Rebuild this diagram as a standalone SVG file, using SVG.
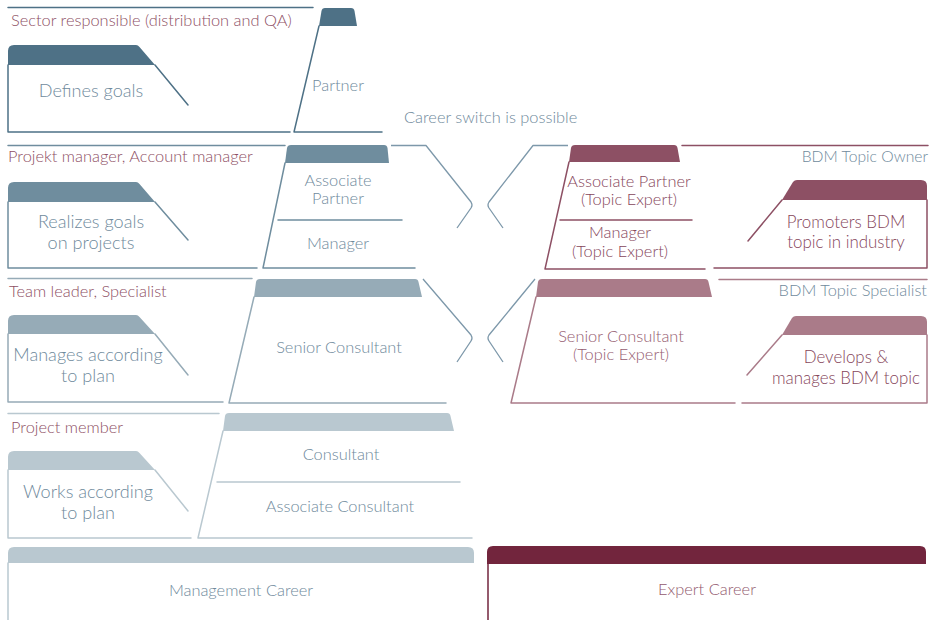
<svg xmlns="http://www.w3.org/2000/svg" width="935" height="620" viewBox="0 0 935 620">
<style>
text{font-family:Lato,"Liberation Sans",sans-serif;font-size:16.4px;font-weight:300}
.big{font-size:18.1px}
.bigr{font-size:16.9px}
.red{fill:#8e4f64}
.blu{fill:#6f8a9c}
.m{text-anchor:middle}
.e{text-anchor:end}
.ln{fill:none;stroke-width:1.5;stroke-linejoin:round;stroke-linecap:round}
.s1{stroke:#4e7186}.f1{fill:#4e7186}
.s2{stroke:#6f8d9e}.f2{fill:#6f8d9e}
.s3{stroke:#96abb7}.f3{fill:#96abb7}
.s4{stroke:#b9c8d0}.f4{fill:#b9c8d0}
.r1{stroke:#8d5064}.g1{fill:#8d5064}
.r2{stroke:#aa7b89}.g2{fill:#aa7b89}
.ch{fill:none;stroke:#7d98aa;stroke-width:1.3;stroke-linejoin:round}
</style>
<rect width="935" height="620" fill="#ffffff"/>

<g id="level-sector">
<path class="ln s1" d="M8,7.5 H313"/>
<text class="red" x="11" y="26">Sector responsible (distribution and QA)</text>
</g>
<g id="defines-goals">
<path class="f1" d="M8,51 Q8,45 14,45 L136,45 Q138,45 139.5,47 L155,65 L8,65 Z"/>
<path class="ln s1" d="M155,65 L188,105 M8,65 V132 H290"/>
<text class="blu big m" x="91" y="97">Defines goals</text>
</g>
<g id="partner">
<path class="f1" d="M319,26 L321.5,11 Q322,8 325,8 L351,8 Q354,8 354.5,11 L357,26 Z"/>
<path class="ln s1" d="M319,26 L294,132 H382"/>
<text class="blu m" x="338" y="91">Partner</text>
</g>

<g id="level-project-manager">
<path class="ln s2" d="M8,145.5 H285"/>
<text class="red" x="8" y="162">Projekt manager, Account manager</text>
</g>
<g id="realizes-goals">
<path class="f2" d="M8,188 Q8,182 14,182 L136,182 Q138,182 139.5,184 L155,202 L8,202 Z"/>
<path class="ln s2" d="M155,202 L188,240 M8,202 V268 H257"/>
<text class="blu big m" x="91" y="228">Realizes goals</text>
<text class="blu big m" x="91" y="249">on projects</text>
</g>
<g id="associate-partner">
<path class="f2" d="M285,163 L287,148 Q287.5,145 291,145 L384,145 Q387,145 387.5,148 L389,163 Z"/>
<path class="ln s2" d="M285,163 L263,268 H415 M278,220 H402"/>
<text class="blu m" x="338" y="186">Associate</text>
<text class="blu m" x="338" y="204">Partner</text>
<text class="blu m" x="338" y="249">Manager</text>
</g>

<g id="level-team-leader">
<path class="ln s3" d="M8,278.5 H252"/>
<text class="red" x="9" y="297">Team leader, Specialist</text>
</g>
<g id="manages-plan">
<path class="f3" d="M8,321 Q8,315 14,315 L136,315 Q138,315 139.5,317 L155,334 L8,334 Z"/>
<path class="ln s3" d="M155,334 L188,375 M8,334 V402 H223"/>
<text class="blu big m" x="88" y="361">Manages according</text>
<text class="blu big m" x="88" y="382">to plan</text>
</g>
<g id="senior-consultant">
<path class="f3" d="M254,297 L256,282 Q256.5,279 260,279 L415,279 Q418,279 418.5,282 L422,297 Z"/>
<path class="ln s3" d="M254,297 L229,403 H446"/>
<text class="blu m" x="339" y="353">Senior Consultant</text>
</g>

<g id="level-project-member">
<path class="ln s4" d="M8,413.5 H219"/>
<text class="red" x="11" y="433">Project member</text>
</g>
<g id="works-plan">
<path class="f4" d="M8,457 Q8,451 14,451 L136,451 Q138,451 139.5,453 L155,470 L8,470 Z"/>
<path class="ln s4" d="M155,470 L188,511 M8,470 V538 H191"/>
<text class="blu big m" x="88" y="498">Works according</text>
<text class="blu big m" x="88" y="519">to plan</text>
</g>
<g id="consultant">
<path class="f4" d="M223,431 L225,416 Q225.5,413 229,413 L447,413 Q450,413 450.5,416 L454,431 Z"/>
<path class="ln s4" d="M223,431 L198,538 H472 M217,482 H460"/>
<text class="blu m" x="341" y="460">Consultant</text>
<text class="blu m" x="340" y="512">Associate Consultant</text>
</g>

<g id="management-career">
<path class="f4" d="M8,563 V553 Q8,547 14,547 H468 Q474,547 474,553 V563 Z"/>
<path class="ln s4" d="M8,563 V621"/>
<text class="blu m" x="241" y="596">Management Career</text>
</g>
<g id="expert-career">
<path fill="#72253d" d="M487,564 V552 Q487,546 493,546 H920 Q926,546 926,552 V564 Z"/>
<path class="ln" stroke="#72253d" d="M488,564 V621"/>
<text class="m" fill="#925a6e" x="707" y="595">Expert Career</text>
</g>

<g id="associate-partner-topic">
<path class="g1" d="M569,162 L571,148 Q571.5,145 575,145 L674,145 Q677,145 677.5,148 L680,162 Z"/>
<path class="ln r1" d="M569,162 L545,269 H705 M560,220 H692"/>
<text class="m" fill="#86465b" x="629" y="187">Associate Partner</text>
<text class="m" fill="#86465b" x="629" y="205">(Topic Expert)</text>
<text class="m" fill="#86465b" x="620" y="238">Manager</text>
<text class="m" fill="#86465b" x="620" y="257">(Topic Expert)</text>
</g>
<g id="level-bdm-owner">
<path class="ln r1" stroke-width="1.2" d="M682,145.5 H928"/>
<text class="blu e" x="928" y="162" style="font-size:15.7px">BDM Topic Owner</text>
</g>
<g id="promoters-bdm">
<path class="g1" d="M782,200 L793,182 Q794.5,180 797,180 L921,180 Q927,180 927,186 L927,200 Z"/>
<path class="ln r1" d="M782,200 L748,241 M927,200 V268 H714"/>
<text class="bigr m" fill="#86465b" x="846" y="228">Promoters BDM</text>
<text class="bigr m" fill="#86465b" x="846" y="248">topic in industry</text>
</g>

<g id="senior-consultant-topic">
<path class="g2" d="M536,297 L538,282 Q538.5,279 542,279 L705,279 Q708,279 708.5,282 L712,297 Z"/>
<path class="ln r2" d="M536,297 L511,403 H735"/>
<text class="m" fill="#955c70" x="621" y="342">Senior Consultant</text>
<text class="m" fill="#955c70" x="621" y="360">(Topic Expert)</text>
</g>
<g id="level-bdm-specialist">
<path class="ln r2" stroke-width="1.2" d="M719,279.5 H927"/>
<text class="blu e" x="927" y="296">BDM Topic Specialist</text>
</g>
<g id="develops-bdm">
<path class="g2" d="M782,335 L792,318 Q793.5,316 796,316 L921,316 Q927,316 927,322 V335 Z"/>
<path class="ln r2" d="M782,335 L747,375 M927,335 V403 H742"/>
<text class="bigr m" fill="#86465b" x="846" y="363">Develops &amp;</text>
<text class="bigr m" fill="#86465b" x="846" y="384">manages BDM topic</text>
</g>

<g id="connectors">
<path class="ch" d="M391,145.5 H426 L471,202 Q473,205 471,208 L457,228"/>
<path class="ch" d="M568,145.5 H533 L489,202 Q487,205 489,208 L503,228"/>
<path class="ch" d="M423,279 L471,335 Q473,338 471,341 L457,362"/>
<path class="ch" d="M535,279 L489,335 Q487,338 489,341 L503,362"/>
<text class="blu" x="404" y="123">Career switch is possible</text>
</g>
</svg>
